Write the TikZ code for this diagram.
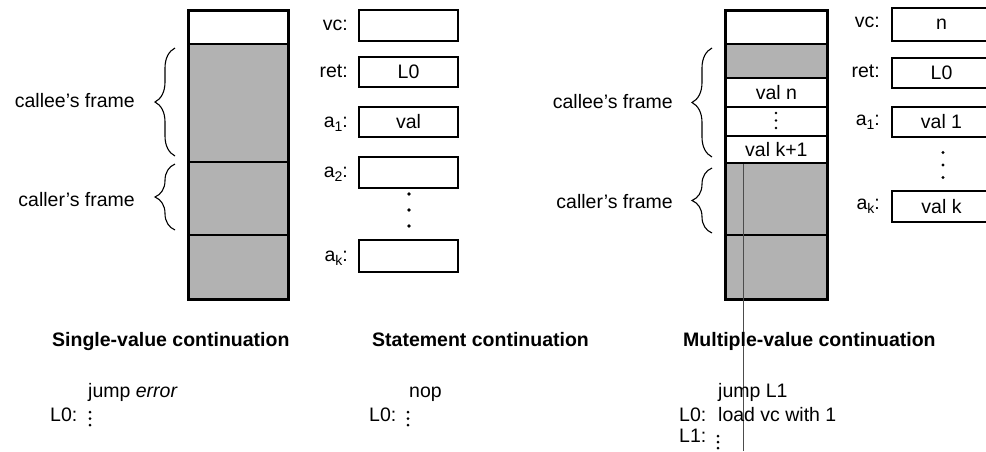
\documentclass[tikz,border=0pt]{standalone}
\usepackage{fontspec}
\setmainfont{Liberation Sans}
\usetikzlibrary{decorations.pathreplacing}
\newcommand\regsub[1]{\raisebox{-0.45ex}{\fontsize{14}{14}\selectfont #1}}
\newcommand\vdotsat[4]{\foreach \kk in {-1,0,1} {\fill (#1,#2+\kk*#3) circle (#4pt);}}
\definecolor{shade}{gray}{0.70}
\begin{document}
\begin{tikzpicture}[x=1pt,y=-1pt,
  font=\fontsize{19.5}{23}\selectfont,
  cellA/.style={draw, line width=1.8pt, minimum width=99pt, inner sep=0pt, anchor=north west},
  cellB/.style={draw, line width=1.8pt, minimum width=101pt, inner sep=0pt, anchor=north west},
  shaded/.style={fill=shade},
  outer/.style={draw, line width=3pt},
  reg/.style={draw, line width=1.4pt, minimum width=99pt, inner sep=0pt},
  lab/.style={anchor=base east, inner sep=0pt},
  txt/.style={anchor=base west, inner sep=0pt},
  head/.style={anchor=base west, inner sep=0pt, font=\fontsize{19.5}{23}\selectfont\bfseries},
  brc/.style={decorate, decoration={brace, amplitude=20pt}, line width=1.1pt}
]
\useasboundingbox (0,0) rectangle (986,451);
\clip (0,0) rectangle (986,451);

% ---------- left stack ----------
\node[cellA, minimum height=33pt] (sAtop) at (188,10) {};
\node[cellA, shaded, minimum height=118pt] (sAcallee) at (188,43) {};
\node[cellA, shaded, minimum height=73pt] (sAcaller) at (188,161) {};
\node[cellA, shaded, minimum height=64pt] (sAbase) at (188,234) {};
\draw[outer] (sAtop.north west) rectangle (sAbase.south east);

\draw[brc] (175,156) -- (175,48);
\draw[brc] (175,230) -- (175,164);
\node[lab] (lcallee) at (135,107) {callee's frame};
\node[lab] (lcaller) at (135,206) {caller's frame};

% left registers
\node[reg, minimum height=31pt] (rAvc) at (408.5,25.5) {};
\node[reg, minimum height=30pt] (rAret) at (408.5,72) {L0};
\node[reg, minimum height=30pt] (rAa1) at (408.5,122) {val};
\node[reg, minimum height=31pt] (rAa2) at (408.5,172.5) {};
\node[reg, minimum height=32pt] (rAak) at (408.5,256) {};
\vdotsat{409}{210}{16}{1.8}
\node[lab] (lAvc) at (348,30) {vc:};
\node[lab] (lAret) at (348,77) {ret:};
\node[lab] (lAa1) at (348,127) {a\regsub{1}:};
\node[lab] (lAa2) at (348,177) {a\regsub{2}:};
\node[lab] (lAak) at (348,261) {a\regsub{k}:};

% ---------- middle stack ----------
\node[cellB, minimum height=33pt] (sBtop) at (725,10) {};
\node[cellB, shaded, minimum height=34pt] (sBcallee) at (725,43) {};
\node[cellB, minimum height=29pt] (sBvaln) at (725,77) {};
\node[cellB, minimum height=29pt] (sBdots) at (725,106) {};
\node[cellB, minimum height=27pt] (sBvalk) at (725,135) {};
\node[cellB, shaded, minimum height=72pt] (sBcaller) at (725,162) {};
\node[cellB, shaded, minimum height=64pt] (sBbase) at (725,234) {};
\draw[outer] (sBtop.north west) rectangle (sBbase.south east);
\node[inner sep=0pt] (tvaln) at (sBvaln.center) {val n};
\vdotsat{776}{120.5}{7.5}{1.4}
\node[inner sep=0pt] (tvalk) at (sBvalk.center) {val k+1};

\draw[brc] (712,157) -- (712,48);
\draw[brc] (712,233) -- (712,168);
\node[lab] (mcallee) at (673,108) {callee's frame};
\node[lab] (mcaller) at (673,208) {caller's frame};

% right registers
\node[reg, minimum height=33pt] (rBvc) at (941.5,24.5) {n};
\node[reg, minimum height=30pt] (rBret) at (941.5,73) {L0};
\node[reg, minimum height=30pt] (rBa1) at (941.5,122) {val 1};
\node[reg, minimum height=31pt] (rBak) at (941.5,206.5) {val k};
\vdotsat{943}{165}{12.5}{1.6}
\node[lab] (lBvc) at (880,27) {vc:};
\node[lab] (lBret) at (880,77) {ret:};
\node[lab] (lBa1) at (880,125) {a\regsub{1}:};
\node[lab] (lBak) at (880,209) {a\regsub{k}:};

% thin vertical line
\coordinate (ltop) at (743,164);
\coordinate (lbot) at (743,451);
\draw[black!70, line width=0.8pt] (ltop) -- (lbot);

% ---------- headings ----------
\node[head] (h1) at (52,346) {Single-value continuation};
\node[head] (h2) at (372,346) {Statement continuation};
\node[head] (h3) at (683,346) {Multiple-value continuation};

% ---------- code ----------
\node[txt] (c1a) at (88,397) {jump \textit{error}};
\node[txt] (c1b) at (50,421) {L0:};
\vdotsat{90}{418.5}{6.5}{1.5}

\node[txt] (c2a) at (409,397) {nop};
\node[txt] (c2b) at (369,421) {L0:};
\vdotsat{408}{418.5}{6.5}{1.5}

\node[txt] (c3a) at (718,397) {jump L1};
\node[txt] (c3b) at (679,421) {L0:};
\node[txt] (c3c) at (718,421) {load vc with 1};
\node[txt] (c3d) at (679,442) {L1:};
\vdotsat{718}{442}{6}{1.5}
\end{tikzpicture}
\end{document}
